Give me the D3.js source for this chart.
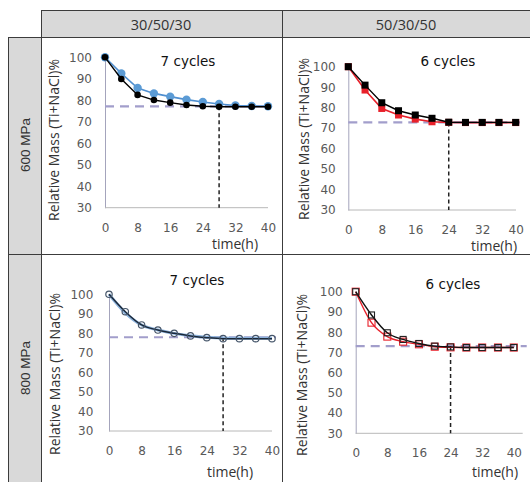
<!DOCTYPE html>
<html>
<head>
<meta charset="utf-8">
<script src="https://cdn.jsdelivr.net/npm/d3@7"></script>
<style>
  body { margin: 0; background: #fff; }
  svg text { fill: #333; }
</style>
</head>
<body>
<svg id="chart" width="530" height="482"></svg>
<script>
// data
const timeH = [0, 4, 8, 12, 16, 20, 24, 28, 32, 36, 40];
const xTicks = [0, 8, 16, 24, 32, 40];
const yTicks = [30, 40, 50, 60, 70, 80, 90, 100];
const colHeaders = ['30/50/30', '50/30/50'];
const rowHeaders = ['600 MPa', '800 MPa'];
const cycleLabels = ['7 cycles', '6 cycles', '7 cycles', '6 cycles'];

const p1Blue  = [100, 92.5, 85.7, 83.2, 81.7, 80.3, 79.2, 78.3, 77.6, 77.3, 77.2];
const p1Black = [100, 89.9, 82.5, 80.1, 78.9, 77.8, 77.2, 77.0, 77.0, 77.0, 77.0];
const p2Red   = [100, 88.6, 79.6, 76.4, 74.4, 73.1, 72.8, 72.7, 72.7, 72.7, 72.7];
const p2Black = [100, 91.0, 82.4, 78.5, 76.4, 74.8, 72.9, 72.8, 72.8, 72.8, 72.8];
const p3Blue  = [100, 90.5, 84.3, 81.7, 80.0, 78.8, 78.0, 77.6, 77.5, 77.5, 77.5];
const p3Black = [100, 91.1, 84.3, 81.7, 80.0, 78.7, 77.8, 77.3, 77.3, 77.3, 77.3];
const p4Red   = [100, 84.7, 77.8, 75.3, 74.0, 72.8, 72.5, 72.4, 72.4, 72.4, 72.4];
const p4Black = [100, 88.5, 79.7, 76.4, 74.4, 73.1, 72.7, 72.4, 72.4, 72.4, 72.4];
const plateau = [77.2, 72.8, 78.0, 73.1];
const endTime = [28, 24, 28, 24];

const svg = d3.select('#chart');

// ---- table frame ----
const gray = '#d9d9d9', border = '#3c3c3c';
svg.append('rect').attr('x', 41).attr('y', 10).attr('width', 489).attr('height', 27).attr('fill', gray);
svg.append('rect').attr('x', 8).attr('y', 37).attr('width', 33).attr('height', 445).attr('fill', gray);

const lines = [
  [41, 10.5, 530, 10.5], [8, 37.5, 530, 37.5], [8, 254.5, 530, 254.5],
  [8.5, 37, 8.5, 482], [41.5, 10, 41.5, 482], [282.5, 10, 282.5, 482]
];
svg.append('g').selectAll('line').data(lines).join('line')
  .attr('x1', d => d[0]).attr('y1', d => d[1]).attr('x2', d => d[2]).attr('y2', d => d[3])
  .attr('stroke', border).attr('stroke-width', 1);

svg.append('g').selectAll('text').data(colHeaders).join('text')
  .attr('x', (d, i) => i === 0 ? 161 : 406).attr('y', 24)
  .attr('text-anchor', 'middle').attr('dominant-baseline', 'central')
  .style('font', '14.5px "Open Sans"').text(d => d);

svg.append('g').selectAll('text').data(rowHeaders).join('text')
  .attr('transform', (d, i) => `translate(25,${i === 0 ? 145 : 368}) rotate(-90)`)
  .attr('text-anchor', 'middle').attr('dominant-baseline', 'central')
  .style('font', '13.5px "Liberation Sans"').text(d => d);

// ---- panel layout ----
const panels = [
  { x0: 105, x1: 268, yTop: 57.3, yBot: 207.7, axisEnd: 268, yLabGap: 13, xLabY: 228, titleX: 53, titleY: 140, timeX: 235, timeY: 243.5, cycX: 188, cycY: 61 },
  { x0: 348.3, x1: 515.7, yTop: 66.7, yBot: 210, axisEnd: 516, yLabGap: 12.6, xLabY: 230, titleX: 303, titleY: 139, timeX: 494, timeY: 245.5, cycX: 448, cycY: 61 },
  { x0: 109, x1: 272, yTop: 294.3, yBot: 431, axisEnd: 272, yLabGap: 15.7, xLabY: 451, titleX: 54, titleY: 374, timeX: 230, timeY: 471, cycX: 197, cycY: 280 },
  { x0: 355.7, x1: 513.8, yTop: 291.7, yBot: 433.3, axisEnd: 522.7, yLabGap: 13, xLabY: 453, titleX: 301, titleY: 375, timeX: 495, timeY: 471, cycX: 453, cycY: 284 }
];

const series = [
  [
    { values: p1Blue, color: '#4f8fd0', width: 1.6, marker: 'circle', size: 4.2, fill: '#5b9bd5', curve: d3.curveLinear },
    { values: p1Black, color: '#000', width: 1.4, marker: 'circle', size: 3.3, fill: '#000', curve: d3.curveLinear }
  ],
  [
    { values: p2Red, color: '#e8202a', width: 1.6, marker: 'square', size: 7, fill: '#e8202a', curve: d3.curveLinear },
    { values: p2Black, color: '#000', width: 1.4, marker: 'square', size: 7, fill: '#000', curve: d3.curveLinear }
  ],
  [
    { values: p3Blue, color: '#8db3dd', width: 3, marker: null, curve: d3.curveMonotoneX },
    { values: p3Black, color: '#1b2838', width: 1.5, marker: 'circle', size: 3.2, fill: 'none', stroke: '#46566a', curve: d3.curveMonotoneX }
  ],
  [
    { values: p4Red, color: '#e8202a', width: 1.4, marker: 'square', size: 7, fill: 'none', stroke: '#e8202a', curve: d3.curveMonotoneX },
    { values: p4Black, color: '#111', width: 1.4, marker: 'square', size: 6, fill: 'none', stroke: '#222', curve: d3.curveMonotoneX }
  ]
];

panels.forEach((p, i) => {
  const x = d3.scaleLinear().domain([0, 40]).range([p.x0, p.x1]);
  const y = d3.scaleLinear().domain([30, 100]).range([p.yBot, p.yTop]);
  const g = svg.append('g');

  // y axis
  const ya = g.append('g').attr('transform', `translate(${p.x0},0)`)
    .call(d3.axisLeft(y).tickValues(yTicks).tickSize(0).tickPadding(p.yLabGap));
  ya.select('.domain').attr('stroke', '#a4a4bc').attr('stroke-width', 1);
  ya.selectAll('text').style('font', '12px "DejaVu Sans"').style('fill', '#595959');

  // x axis
  const xa = g.append('g').attr('transform', `translate(0,${p.yBot})`)
    .call(d3.axisBottom(x).tickValues(xTicks).tickSize(0).tickPadding(0));
  xa.select('.domain').remove();
  g.append('line').attr('x1', p.x0).attr('x2', p.axisEnd).attr('y1', p.yBot).attr('y2', p.yBot)
    .attr('stroke', '#b8b8b8').attr('stroke-width', 1);
  xa.selectAll('text').attr('y', p.xLabY - p.yBot).attr('dy', null)
    .attr('dominant-baseline', 'central')
    .style('font', '12px "DejaVu Sans"').style('fill', '#595959');

  // reference lines
  g.append('line').attr('x1', p.x0).attr('x2', p.axisEnd + 4)
    .attr('y1', y(plateau[i])).attr('y2', y(plateau[i]))
    .attr('stroke', '#a29ecb').attr('stroke-width', 2.2).attr('stroke-dasharray', '9,6');
  g.append('line').attr('x1', x(endTime[i])).attr('x2', x(endTime[i]))
    .attr('y1', y(plateau[i])).attr('y2', p.yBot)
    .attr('stroke', '#222').attr('stroke-width', 1.5).attr('stroke-dasharray', '4,3');

  // series
  series[i].forEach(s => {
    const line = d3.line().x((d, k) => x(timeH[k])).y(d => y(d)).curve(s.curve);
    g.append('path').datum(s.values).attr('d', line)
      .attr('fill', 'none').attr('stroke', s.color).attr('stroke-width', s.width);
    if (s.marker === 'circle') {
      g.append('g').selectAll('circle').data(s.values).join('circle')
        .attr('cx', (d, k) => x(timeH[k])).attr('cy', d => y(d)).attr('r', s.size)
        .attr('fill', s.fill).attr('stroke', s.stroke || 'none').attr('stroke-width', 1.2);
    } else if (s.marker === 'square') {
      g.append('g').selectAll('rect').data(s.values).join('rect')
        .attr('x', (d, k) => x(timeH[k]) - s.size / 2).attr('y', d => y(d) - s.size / 2)
        .attr('width', s.size).attr('height', s.size)
        .attr('fill', s.fill).attr('stroke', s.stroke || 'none').attr('stroke-width', 1.1);
    }
  });

  // labels
  g.append('text').attr('transform', `translate(${p.titleX},${p.titleY}) rotate(-90)`)
    .attr('text-anchor', 'middle').attr('dominant-baseline', 'central')
    .style('font', '14px "Open Sans"').text('Relative Mass (Ti+NaCl)%');
  g.append('text').attr('x', p.timeX).attr('y', p.timeY)
    .attr('text-anchor', 'middle').attr('dominant-baseline', 'central')
    .style('font', '14px "Open Sans"').text('time(h)');
  g.append('text').attr('x', p.cycX).attr('y', p.cycY)
    .attr('text-anchor', 'middle').attr('dominant-baseline', 'central')
    .style('font', '13.5px "DejaVu Sans"').style('fill', '#111').text(cycleLabels[i]);
});
</script>
</body>
</html>
